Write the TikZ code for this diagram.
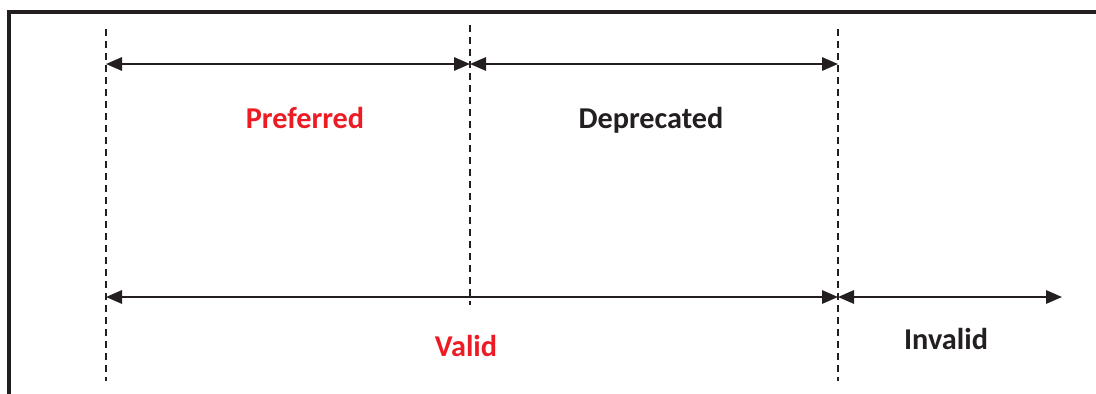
\documentclass[tikz,border=0pt]{standalone}
\usepackage{fontspec}
\setmainfont{Carlito}
\usetikzlibrary{arrows.meta}
\definecolor{lblred}{RGB}{237,28,36}
\definecolor{ink}{RGB}{35,31,32}
\begin{document}
\begin{tikzpicture}[x=0.75pt,y=-0.75pt,
  frameline/.style={ink,line width=2.4pt},
  guide/.style={ink,line width=1.1pt,dash pattern=on 5.2pt off 3.8pt},
  span/.style={ink,line width=1.5pt,{Triangle[length=12pt,width=10pt]}-{Triangle[length=12pt,width=10pt]}},
  lbl/.style={font=\fontsize{22.7}{27}\selectfont\bfseries,inner sep=0pt,anchor=base},
]
\useasboundingbox (0,0) rectangle (1096,393);
% open frame: top and left edges
\draw[frameline] (9,400) -- (9,12) -- (1100,12);
% boundaries between the ranges
\coordinate (t1) at (106,29);   \coordinate (b1) at (106,381);
\coordinate (t2) at (470,25);   \coordinate (b2) at (470,305);
\coordinate (t3) at (838,29);   \coordinate (b3) at (838,381);
\draw[guide] (t1) -- (b1);
\draw[guide] (t2) -- (b2);
\draw[guide] (t3) -- (b3);
% upper row of spans
\coordinate (u1) at (106,64); \coordinate (u2) at (470,64); \coordinate (u3) at (838,64);
\draw[span] (u1) -- (u2);
\draw[span] (u2) -- (u3);
% lower row of spans
\coordinate (l1) at (106,297); \coordinate (l3) at (838,297); \coordinate (l4) at (1062,297);
\draw[span] (l1) -- (l3);
\draw[span] (l3) -- (l4);
% labels
\node[lbl,lblred] (pref) at (305,128) {Preferred};
\node[lbl,ink] (depr) at (651,128) {Deprecated};
\node[lbl,lblred] (valid) at (466,356) {Valid};
\node[lbl,ink] (inval) at (946,349) {Invalid};
\end{tikzpicture}
\end{document}
